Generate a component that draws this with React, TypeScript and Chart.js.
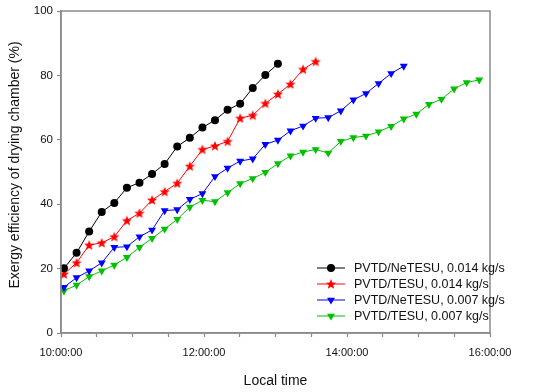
import React, { useEffect, useRef } from "react";
import { Chart, registerables } from "chart.js";

Chart.register(...registerables);

// ---- data ----
const sampleTimes = [
  "10:02:30", "10:13:04", "10:23:37", "10:34:11", "10:44:44", "10:55:18",
  "11:05:52", "11:16:25", "11:26:59", "11:37:32", "11:48:06", "11:58:40",
  "12:09:13", "12:19:47", "12:30:20", "12:40:54", "12:51:28", "13:02:01",
  "13:12:35", "13:23:08", "13:33:42", "13:44:16", "13:54:49", "14:05:23",
  "14:15:56", "14:26:30", "14:37:04", "14:47:37", "14:58:11", "15:08:44",
  "15:19:18", "15:29:52", "15:40:25", "15:50:59",
];

const neTesu014 = [
  20.1, 24.9, 31.5, 37.6, 40.4, 45.1, 46.7, 49.4, 52.5, 57.9,
  60.6, 63.8, 66.1, 69.3, 71.2, 76.1, 80.1, 83.6,
];
const tesu014 = [
  18.3, 21.8, 27.3, 28.0, 29.9, 34.9, 37.2, 41.3, 43.9, 46.5,
  51.8, 57.0, 58.1, 59.5, 66.7, 67.6, 71.3, 74.2, 77.3, 81.9, 84.3,
];
const neTesu007 = [
  14.2, 17.2, 19.3, 21.8, 26.6, 26.8, 29.9, 32.0, 38.0, 38.3,
  41.5, 43.3, 48.6, 51.2, 53.4, 54.1, 58.6, 59.9, 62.8, 64.3,
  66.7, 66.9, 69.0, 72.4, 74.4, 77.5, 80.6, 82.9,
];
const tesu007 = [
  13.1, 14.9, 17.5, 19.3, 21.1, 23.5, 26.6, 29.4, 32.3, 35.3,
  39.1, 41.2, 40.8, 43.6, 46.4, 48.0, 49.9, 52.6, 55.0, 56.2,
  57.0, 55.9, 59.5, 60.7, 61.2, 62.5, 64.2, 66.5, 68.0, 71.0,
  72.6, 75.8, 77.8, 78.6,
];

const seriesNames = [
  "PVTD/NeTESU, 0.014 kg/s",
  "PVTD/TESU, 0.014 kg/s",
  "PVTD/NeTESU, 0.007 kg/s",
  "PVTD/TESU, 0.007 kg/s",
];
const seriesColors = ["#000000", "#ff0000", "#0000ff", "#00c000"];
const seriesMarkers = ["circle", "star", "triangleDown", "triangleDown"];

const xTickLabels = ["10:00:00", "12:00:00", "14:00:00", "16:00:00"];
const yTickValues = [0, 20, 40, 60, 80, 100];
const xAxisTitle = "Local time";
const yAxisTitle = "Exergy efficiency of drying chamber (%)";

// ---- helpers ----
const FONT = "'Liberation Sans', Arial, sans-serif";
const AXIS_GRAY = "#8a8a8a";

function toMinutes(t: string): number {
  const [h, m, s] = t.split(":").map(Number);
  return (h - 10) * 60 + m + (s || 0) / 60;
}

function drawStarPath(ctx: CanvasRenderingContext2D, cx: number, cy: number, R: number, r: number) {
  ctx.beginPath();
  for (let k = 0; k < 10; k++) {
    const rad = k % 2 === 0 ? R : r;
    const a = -Math.PI / 2 + (k * Math.PI) / 5;
    const x = cx + rad * Math.cos(a);
    const y = cy + rad * Math.sin(a);
    if (k === 0) ctx.moveTo(x, y);
    else ctx.lineTo(x, y);
  }
  ctx.closePath();
}

function makeStar(color: string): HTMLCanvasElement {
  const c = document.createElement("canvas");
  c.width = 12;
  c.height = 12;
  const g = c.getContext("2d")!;
  g.fillStyle = color;
  drawStarPath(g, 6, 6.4, 5.4, 2.3);
  g.fill();
  return c;
}

function drawMarker(ctx: CanvasRenderingContext2D, kind: string, color: string, x: number, y: number) {
  ctx.save();
  ctx.fillStyle = color;
  ctx.strokeStyle = color;
  if (kind === "circle") {
    ctx.beginPath();
    ctx.arc(x, y, 4, 0, Math.PI * 2);
    ctx.fill();
  } else if (kind === "star") {
    drawStarPath(ctx, x, y + 0.4, 5.4, 2.3);
    ctx.fill();
  } else {
    const r = 4.6;
    ctx.beginPath();
    ctx.moveTo(x, y + r);
    ctx.lineTo(x - r * Math.sin(Math.PI / 3), y - r / 2);
    ctx.lineTo(x + r * Math.sin(Math.PI / 3), y - r / 2);
    ctx.closePath();
    ctx.fill();
  }
  ctx.restore();
}

const framePlugin = {
  id: "frameAndLegend",
  afterDraw(chart: any) {
    const { ctx, chartArea } = chart;
    const { left, top, right, bottom } = chartArea;
    ctx.save();
    ctx.strokeStyle = AXIS_GRAY;
    ctx.lineWidth = 1.5;
    ctx.strokeRect(left, top, right - left, bottom - top);

    // legend
    ctx.font = `12.5px ${FONT}`;
    ctx.textBaseline = "middle";
    ctx.textAlign = "left";
    seriesNames.forEach((name, i) => {
      const y = 268 + i * 16;
      ctx.strokeStyle = seriesColors[i];
      ctx.lineWidth = 1;
      ctx.beginPath();
      ctx.moveTo(317, y);
      ctx.lineTo(345, y);
      ctx.stroke();
      drawMarker(ctx, seriesMarkers[i], seriesColors[i], 331, y);
      ctx.fillStyle = "#111111";
      ctx.fillText(name, 354, y + 0.5);
    });

    // axis titles
    ctx.fillStyle = "#111111";
    ctx.font = `14px ${FONT}`;
    ctx.textAlign = "center";
    ctx.textBaseline = "middle";
    ctx.fillText(xAxisTitle, (left + right) / 2, 381);
    ctx.save();
    ctx.translate(15, 165);
    ctx.rotate(-Math.PI / 2);
    ctx.fillText(yAxisTitle, 0, 0);
    ctx.restore();
    ctx.restore();
  },
};

export default function App() {
  const canvasRef = useRef<HTMLCanvasElement | null>(null);

  useEffect(() => {
    const canvas = canvasRef.current;
    if (!canvas) return;
    const star = makeStar(seriesColors[1]);
    const seriesValues = [neTesu014, tesu014, neTesu007, tesu007];

    const datasets = seriesValues.map((vals, i) => {
      const marker = seriesMarkers[i];
      return {
        label: seriesNames[i],
        data: vals.map((v, j) => ({ x: toMinutes(sampleTimes[j]), y: v })),
        borderColor: seriesColors[i],
        backgroundColor: seriesColors[i],
        borderWidth: 1,
        pointBackgroundColor: seriesColors[i],
        pointBorderColor: seriesColors[i],
        pointBorderWidth: 0,
        pointStyle: marker === "circle" ? "circle" : marker === "star" ? star : "triangle",
        pointRotation: marker === "triangleDown" ? 180 : 0,
        pointRadius: marker === "circle" ? 4 : 4.6,
        tension: 0,
        fill: false,
      };
    });

    const xMin = toMinutes(xTickLabels[0]);
    const xMax = toMinutes(xTickLabels[xTickLabels.length - 1]);

    const chart = new Chart(canvas, {
      type: "line",
      data: { datasets },
      options: {
        animation: false,
        responsive: false,
        devicePixelRatio: 1,
        layout: { padding: { top: 11, right: 60, left: 0, bottom: 0 } },
        plugins: {
          legend: { display: false },
          tooltip: { enabled: false },
        },
        scales: {
          x: {
            type: "linear",
            min: xMin,
            max: xMax,
            afterFit: (scale: any) => {
              scale.height = 59;
            },
            afterBuildTicks: (scale: any) => {
              const ticks = [];
              for (let v = xMin; v <= xMax; v += 30) ticks.push({ value: v });
              scale.ticks = ticks;
            },
            ticks: {
              autoSkip: false,
              maxRotation: 0,
              padding: 9,
              color: "#111111",
              font: { family: FONT, size: 11 },
              callback: (value: any) => {
                const lab = xTickLabels.find((l) => Math.abs(toMinutes(l) - Number(value)) < 0.01);
                return lab || "";
              },
            },
            grid: {
              display: true,
              drawOnChartArea: false,
              drawTicks: true,
              tickLength: 4,
              tickColor: AXIS_GRAY,
              tickWidth: 1.2,
            },
            border: { display: true, color: AXIS_GRAY, width: 1.5 },
          },
          y: {
            type: "linear",
            min: yTickValues[0],
            max: yTickValues[yTickValues.length - 1],
            afterFit: (scale: any) => {
              scale.width = 61;
            },
            afterBuildTicks: (scale: any) => {
              scale.ticks = yTickValues.map((v) => ({ value: v }));
            },
            ticks: {
              padding: 4,
              color: "#111111",
              font: { family: FONT, size: 11.5 },
              callback: (value: any) => String(value),
            },
            grid: {
              display: true,
              drawOnChartArea: false,
              drawTicks: true,
              tickLength: 4,
              tickColor: AXIS_GRAY,
              tickWidth: 1.2,
            },
            border: { display: true, color: AXIS_GRAY, width: 1.5 },
          },
        },
      },
      plugins: [framePlugin],
    });

    return () => chart.destroy();
  }, []);

  return (
    <div style={{ position: "absolute", left: 0, top: 0, width: 550, height: 392, background: "#ffffff" }}>
      <canvas ref={canvasRef} width={550} height={392} style={{ width: 550, height: 392, display: "block" }} />
    </div>
  );
}
